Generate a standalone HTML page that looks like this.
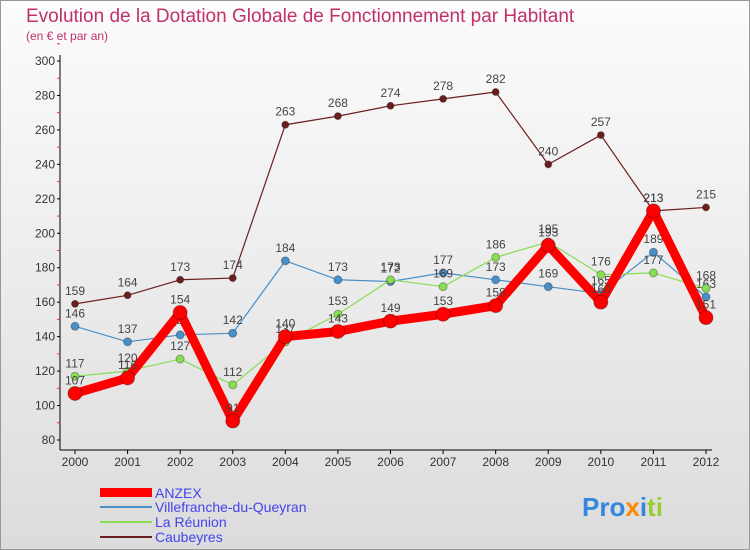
<!DOCTYPE html>
<html><head><meta charset="utf-8"><style>
body{margin:0;width:750px;height:550px;overflow:hidden;font-family:"Liberation Sans",sans-serif;}
#wrap{position:relative;width:748px;height:548px;border:1px solid #999;background:linear-gradient(#fcfcfc,#dcdcdc);}
</style></head><body>
<div id="wrap">
<svg id="chart" width="750" height="550" style="position:absolute;left:-1px;top:-1px">
<text x="26" y="22" font-size="19" fill="#c0306a">Evolution de la Dotation Globale de Fonctionnement par Habitant</text>
<text x="26" y="40" font-size="12" fill="#c0306a">(en € et par an)</text>
<g id="axes"></g><g id="series"></g>
<g>
<rect x="100" y="488" width="52" height="9" fill="#ff0000"/>
<text x="155" y="498" font-size="14" fill="#4444ee">ANZEX</text>
<rect x="100" y="506" width="52" height="2" fill="#4a90c8"/>
<text x="155" y="512" font-size="14" fill="#4444ee">Villefranche-du-Queyran</text>
<rect x="100" y="521" width="52" height="2" fill="#88dd55"/>
<text x="155" y="527" font-size="14" fill="#4444ee">La Réunion</text>
<rect x="100" y="536" width="52" height="2" fill="#6b1e1e"/>
<text x="155" y="542" font-size="14" fill="#4444ee">Caubeyres</text>
</g>
<text x="582" y="516" font-size="26" font-weight="bold" fill="#3388dd">Pro<tspan fill="#ff8800">x</tspan><tspan fill="#3388dd">i</tspan><tspan fill="#99cc33">ti</tspan></text>
</svg>
</div>
<script>
const years=["2000","2001","2002","2003","2004","2005","2006","2007","2008","2009","2010","2011","2012"];
const yTicks=[80,100,120,140,160,180,200,220,240,260,280,300];
const anzex=[107,116,154,91,140,143,149,153,158,193,160,213,151];
const villefranche=[146,137,141,142,184,173,172,177,173,169,165,189,163];
const reunion=[117,120,127,112,137,153,173,169,186,195,176,177,168];
const caubeyres=[159,164,173,174,263,268,274,278,282,240,257,213,215];
const NS="http://www.w3.org/2000/svg";
const X=i=>75+i*(631/12);
const Y=v=>440-(v-80)*(379/220);
function mk(tag,attrs,parent){const e=document.createElementNS(NS,tag);for(const k in attrs)e.setAttribute(k,attrs[k]);parent.appendChild(e);return e;}
const axes=document.getElementById('axes'),ser=document.getElementById('series');
let yl=mk('line',{x1:60,y1:55,x2:60,y2:450,stroke:'#000'},axes);


let xl=mk('line',{x1:60,y1:450,x2:712,y2:450,stroke:'#000'},axes);


yTicks.forEach(t=>{const y=Y(t);
 mk('line',{x1:57,y1:y,x2:60,y2:y,stroke:'#000'},axes);
 mk('line',{x1:57,y1:Y(t+10),x2:60,y2:Y(t+10),stroke:'#e33'},axes);
 const tx=mk('text',{x:55,y:y+4,'font-size':12,'text-anchor':'end',fill:'#333'},axes);tx.textContent=t;
 
 
});
years.forEach((yr,i)=>{const x=X(i);
 mk('line',{x1:x,y1:450,x2:x,y2:454,stroke:'#000'},axes);
 const tx=mk('text',{x:x,y:466,'font-size':12,'text-anchor':'middle',fill:'#333'},axes);tx.textContent=yr;
 
 
});
function draw(data,color,w,r,name){
 const g=mk('g',{},ser);
 
 
 const pl=mk('polyline',{points:data.map((v,i)=>X(i)+','+Y(v)).join(' '),fill:'none',stroke:color,'stroke-width':w,'stroke-linejoin':'round'},g);
 
 
 data.forEach((v,i)=>{
  const c=mk('circle',{cx:X(i),cy:Y(v),r:r,fill:color,stroke:'rgba(0,0,0,0.3)'},g);
  
  
  const t=mk('text',{x:X(i),y:Y(v)-9,'font-size':12,'text-anchor':'middle',fill:'#444'},g);t.textContent=v;
  
  
 });
}
draw(caubeyres,'#6b1e1e',1.2,3.5,'caubeyres');
draw(villefranche,'#4a90c8',1.2,4,'villefranche');
draw(reunion,'#88dd55',1.2,4,'reunion');
draw(anzex,'#ff0000',9,7,'anzex');
</script>
</body></html>
